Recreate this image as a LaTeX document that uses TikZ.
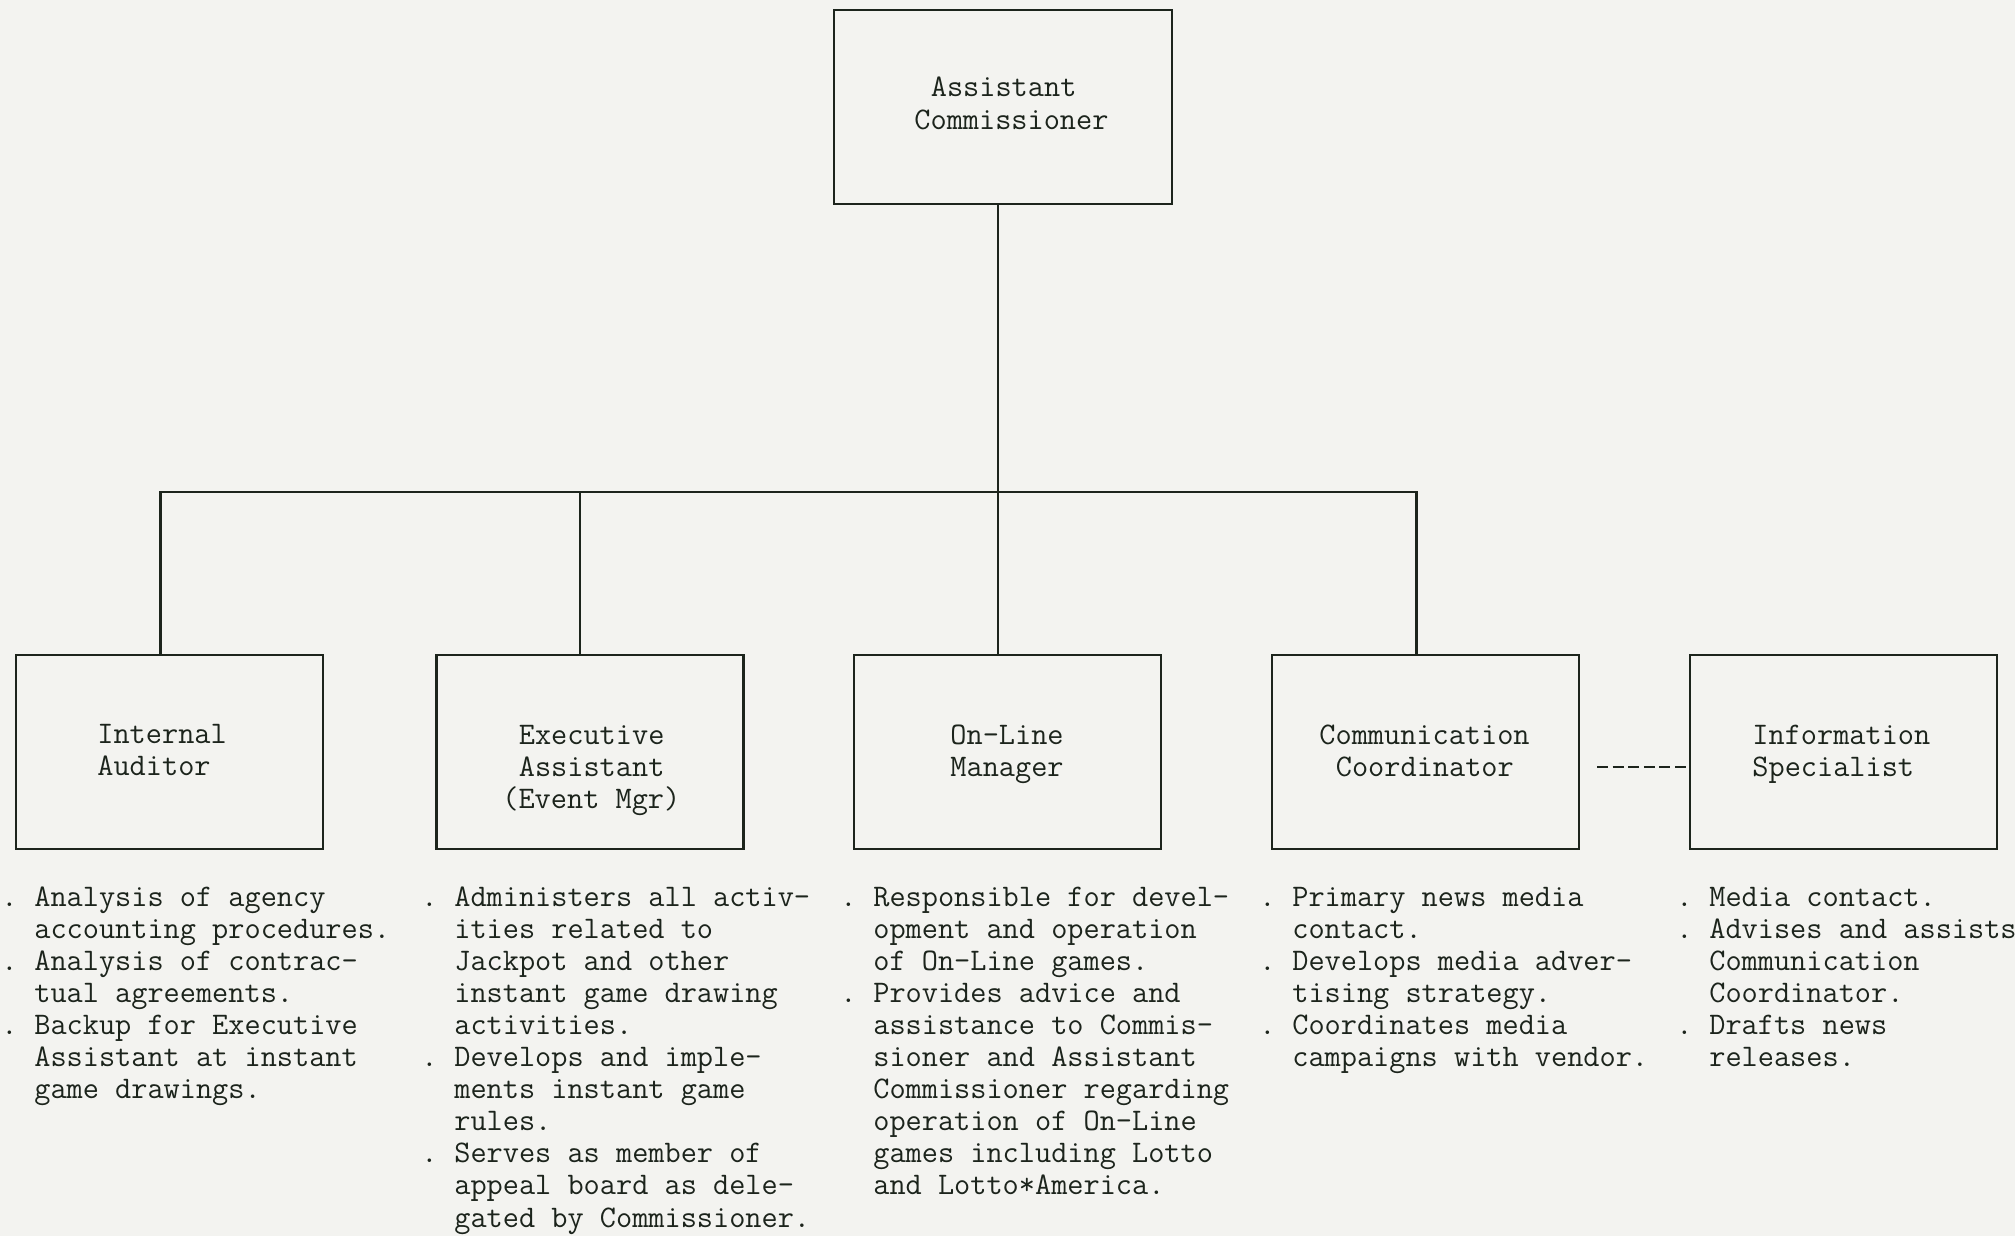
\documentclass[tikz,border=0pt]{standalone}
\usepackage{fontspec}
\definecolor{paper}{RGB}{243,243,240}
\definecolor{ink}{RGB}{28,36,28}
\newcommand\tw{\fontsize{15.7pt}{16.05pt}\selectfont\ttfamily\addfontfeatures{FakeBold=0.7}}
% bullet cell ". " and the two-cell indent of continuation lines
\newcommand\itm{\makebox[1.05em][l]{.}}
\newcommand\cont{\hspace*{1.05em}}
\newcommand\one{\hspace*{0.525em}}
\newcommand\rows[1]{\begin{tabular}[t]{@{}l@{}}#1\end{tabular}}
\begin{document}
\begin{tikzpicture}[x=0.5pt,y=-0.5pt,
  unit/.style={draw=ink, line width=1.4pt, minimum width=153.5pt, minimum height=97pt, inner sep=0pt},
  head/.style={unit, minimum width=169pt},
  wire/.style={draw=ink, line width=1.4pt},
  dotted link/.style={draw=ink, line width=1.1pt, dash pattern=on 5.5pt off 2.3pt},
  txt/.style={font=\tw, text=ink, inner sep=0pt, anchor=base west}]
\fill[paper] (0,0) rectangle (2015,1236);
\useasboundingbox (0,0) rectangle (2015,1236);

% boxes
\node[head] (top) at (1003,107) {};
\node[unit] (aud) at (169.5,752) {};
\node[unit] (exe) at (590,752) {};
\node[unit] (onl) at (1007.5,752) {};
\node[unit] (com) at (1425.5,752) {};
\node[unit] (inf) at (1843.5,752) {};

% box titles
\node[txt] (tTop) at (914,97) {\rows{\one Assistant\\ Commissioner}};
\node[txt] (tAud) at (97,743) {\rows{Internal\\ Auditor}};
\node[txt] (tExe) at (502,744) {\rows{\one Executive\\ \one Assistant\\ (Event Mgr)}};
\node[txt] (tOnl) at (950,744) {\rows{On-Line\\ Manager}};
\node[txt] (tCom) at (1319,744) {\rows{Communication\\ \one Coordinator}};
\node[txt] (tInf) at (1752,744) {\rows{Information\\ Specialist}};

% reporting lines
\coordinate (bus) at (0,492);
\coordinate (sA) at ([xshift=-4.5pt]aud.north);
\coordinate (sE) at ([xshift=-5pt]exe.north);
\coordinate (sC) at ([xshift=-4.7pt]com.north);
\coordinate (trunk) at ([xshift=-2.5pt]top.south);
\draw[wire] (sA) -- (sA |- bus) -- (sC |- bus) -- (sC);
\draw[wire] (sE |- bus) -- (sE);
\draw[wire] (trunk) -- (trunk |- onl.north);

% staff link
\coordinate (dashstart) at (1597,767);
\draw[dotted link] (dashstart) -- (inf.west |- dashstart);

% duties
\node[txt] (dAud) at (1,906) {\rows{%
\itm Analysis of agency\\
\cont accounting procedures.\\
\itm Analysis of contrac-\\
\cont tual agreements.\\
\itm Backup for Executive\\
\cont Assistant at instant\\
\cont game drawings.}};
\node[txt] (dExe) at (421,906) {\rows{%
\itm Administers all activ-\\
\cont ities related to\\
\cont Jackpot and other\\
\cont instant game drawing\\
\cont activities.\\
\itm Develops and imple-\\
\cont ments instant game\\
\cont rules.\\
\itm Serves as member of\\
\cont appeal board as dele-\\
\cont gated by Commissioner.}};
\node[txt] (dOnl) at (840,906) {\rows{%
\itm Responsible for devel-\\
\cont opment and operation\\
\cont of On-Line games.\\
\itm Provides advice and\\
\cont assistance to Commis-\\
\cont sioner and Assistant\\
\cont Commissioner regarding\\
\cont operation of On-Line\\
\cont games including Lotto\\
\cont and Lotto*America.}};
\node[txt] (dCom) at (1259,906) {\rows{%
\itm Primary news media\\
\cont contact.\\
\itm Develops media adver-\\
\cont tising strategy.\\
\itm Coordinates media\\
\cont campaigns with vendor.}};
\node[txt] (dInf) at (1676,906) {\rows{%
\itm Media contact.\\
\itm Advises and assists\\
\cont Communication\\
\cont Coordinator.\\
\itm Drafts news\\
\cont releases.}};
\end{tikzpicture}
\end{document}
